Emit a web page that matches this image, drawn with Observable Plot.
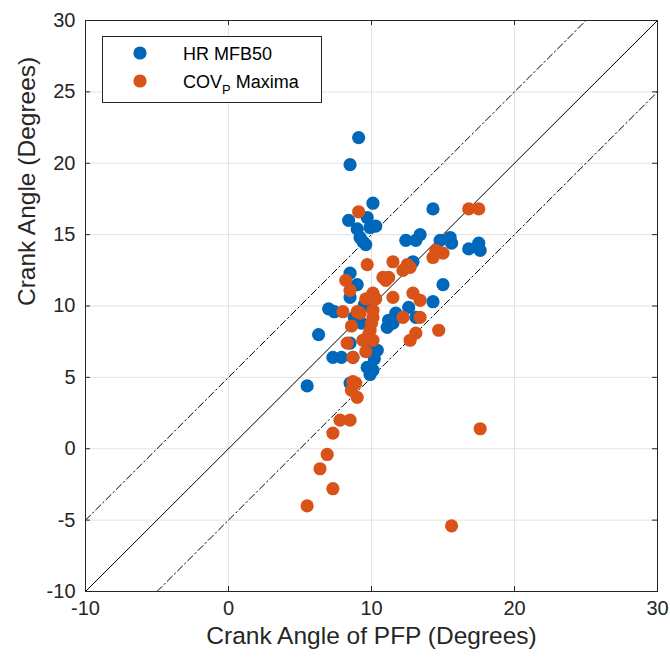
<!DOCTYPE html>
<html><head><meta charset="utf-8">
<script src="https://cdn.jsdelivr.net/npm/d3@7"></script>
<script src="https://cdn.jsdelivr.net/npm/@observablehq/plot@0.6"></script>
<style>
body{margin:0;background:#fff;}
#chart{width:670px;height:657px;}
svg{overflow:visible;}
</style></head><body><div id="chart"></div>
<script>
// Series names and colours
const seriesNames = ["HR MFB50", "COV", "P", " Maxima"]; // second legend label: COV with subscript P
const seriesColors = ["#0068BA", "#D95319"];

// HR MFB50 (blue)
const hrX = [9.1, 8.5, 10.1, 14.3, 8.4, 9.7, 9.0, 9.9, 10.3, 9.2, 9.6, 9.4, 12.4, 13.4, 13.1, 14.8, 15.5, 15.6, 16.8, 17.5, 17.6, 12.9, 15.0, 14.3, 12.6, 11.7, 13.1, 11.5, 11.1, 8.5, 9.0, 8.5, 7.0, 7.4, 6.3, 8.5, 7.3, 7.9, 8.7, 9.7, 10.4, 10.1, 9.9, 8.5, 5.5, 10.0, 10.2, 9.3, 11.2, 9.5, 8.8];
const hrY = [21.8, 19.9, 17.2, 16.8, 16.0, 16.2, 15.4, 15.5, 15.6, 14.8, 14.3, 14.5, 14.6, 15.0, 14.6, 14.6, 14.8, 14.4, 14.0, 14.4, 13.9, 13.1, 11.5, 10.3, 9.9, 9.5, 9.2, 8.8, 8.5, 12.3, 11.5, 10.6, 9.8, 9.6, 8.0, 7.4, 6.4, 6.4, 6.4, 5.7, 6.9, 5.5, 5.2, 4.6, 4.4, 7.5, 6.3, 8.8, 9.0, 10.1, 9.2];

// COV_P Maxima (orange)
const covX = [9.1, 16.8, 17.5, 9.7, 11.5, 8.2, 8.5, 10.8, 11.0, 10.1, 11.5, 8.0, 9.0, 10.1, 9.2, 10.1, 9.9, 8.3, 8.7, 9.4, 10.1, 8.7, 14.5, 14.3, 15.0, 12.5, 12.7, 12.2, 12.9, 13.4, 12.2, 13.4, 14.7, 13.1, 12.7, 8.9, 8.6, 9.0, 7.8, 8.5, 7.3, 6.9, 6.4, 7.3, 5.5, 15.6, 17.6, 9.6, 10.0, 9.8, 8.6, 9.6, 11.2, 10.3];
const covY = [16.6, 16.8, 16.8, 12.9, 13.1, 11.8, 11.1, 12.0, 11.8, 10.9, 10.6, 9.6, 9.6, 9.7, 9.5, 9.2, 8.3, 7.4, 6.4, 7.6, 7.6, 4.7, 13.9, 13.4, 13.7, 12.9, 12.7, 12.5, 10.9, 10.4, 9.2, 9.2, 8.3, 8.1, 7.6, 4.6, 4.1, 3.6, 2.0, 2.0, 1.1, -0.4, -1.4, -2.8, -4.0, -5.4, 1.4, 10.5, 8.8, 8.0, 8.6, 6.8, 12.0, 10.5];

// Axes
const xDomain = [-10, 30];
const yDomain = [-10, 30];
const xTicks = [-10, 0, 10, 20, 30];
const yTicks = [-10, -5, 0, 5, 10, 15, 20, 25, 30];
const xLabel = "Crank Angle of PFP (Degrees)";
const yLabel = "Crank Angle (Degrees)";

// Reference lines y = x + offset
const refOffsets = [0, 5, -5];

const hr = hrX.map((x, i) => ({x, y: hrY[i]}));
const cov = covX.map((x, i) => ({x, y: covY[i]}));

// Reference line segments, clipped to the square domain
const refLines = refOffsets.flatMap(o => {
  const x1 = Math.max(xDomain[0], yDomain[0] - o);
  const x2 = Math.min(xDomain[1], yDomain[1] - o);
  return [{o, x: x1, y: x1 + o}, {o, x: x2, y: x2 + o}];
});

const W = 670, H = 657;
const mL = 85, mR = 13, mT = 20, mB = 66;
const plotW = W - mL - mR;
const tickLen = 5 * (xDomain[1] - xDomain[0]) / plotW;
const tickLenY = 5 * (yDomain[1] - yDomain[0]) / (H - mT - mB);
const axisColor = "#262626";
const font = "'Liberation Sans', Arial, Helvetica, sans-serif";

const chart = Plot.plot({
  width: W, height: H,
  marginLeft: mL, marginRight: mR, marginTop: mT, marginBottom: mB,
  x: {domain: xDomain, label: null},
  y: {domain: yDomain, label: null},
  style: {fontFamily: font, color: axisColor, background: "#fff", overflow: "visible"},
  marks: [
    Plot.gridX(xTicks, {stroke: "#e3e3e3", strokeOpacity: 1}),
    Plot.gridY(yTicks, {stroke: "#e3e3e3", strokeOpacity: 1}),
    Plot.line(refLines.filter(d => d.o === 0), {x: "x", y: "y", z: "o", stroke: "#000", strokeWidth: 1}),
    Plot.line(refLines.filter(d => d.o !== 0), {x: "x", y: "y", z: "o", stroke: "#000", strokeWidth: 1,
      strokeDasharray: "7,3,1.5,3"}),
    Plot.dot(hr, {x: "x", y: "y", r: 6.6, fill: seriesColors[0]}),
    Plot.dot(cov, {x: "x", y: "y", r: 6.6, fill: seriesColors[1]}),
    // inward ticks on all four sides
    Plot.ruleX(xTicks, {y1: yDomain[0], y2: yDomain[0] + tickLenY, stroke: axisColor}),
    Plot.ruleX(xTicks, {y1: yDomain[1], y2: yDomain[1] - tickLenY, stroke: axisColor}),
    Plot.ruleY(yTicks, {x1: xDomain[0], x2: xDomain[0] + tickLen, stroke: axisColor}),
    Plot.ruleY(yTicks, {x1: xDomain[1], x2: xDomain[1] - tickLen, stroke: axisColor}),
    Plot.frame({stroke: axisColor, strokeWidth: 1}),
    Plot.axisX(xTicks, {tickSize: 0, tickPadding: 9, fontSize: 20, label: null, tickFormat: d => String(d)}),
    Plot.axisY(yTicks, {tickSize: 0, tickPadding: 10, fontSize: 20, label: null, tickFormat: d => String(d)}),
    Plot.text([xLabel], {frameAnchor: "bottom", dy: 52, fontSize: 24.5, fill: axisColor}),
    Plot.text([yLabel], {frameAnchor: "left", dx: -58, rotate: -90, fontSize: 24.5, fill: axisColor})
  ]
});

document.getElementById("chart").appendChild(chart);

// Legend inside the axes (upper left)
const svg = d3.select(chart);
const lg = svg.append("g").attr("font-family", font).attr("fill", "#000").attr("text-anchor", "start");
lg.append("rect").attr("x", 102.5).attr("y", 36.5).attr("width", 219).attr("height", 66)
  .attr("fill", "#fff").attr("stroke", axisColor).attr("stroke-width", 1);
const rows = [
  {color: seriesColors[0], y: 53, parts: [seriesNames[0]]},
  {color: seriesColors[1], y: 81, parts: [seriesNames[1], seriesNames[2], seriesNames[3]]}
];
rows.forEach(r => {
  lg.append("circle").attr("cx", 140).attr("cy", r.y).attr("r", 6.6).attr("fill", r.color);
  const t = lg.append("text").attr("x", 183).attr("y", r.y + 6.5).attr("text-anchor", "start")
    .attr("font-size", 18).attr("fill", "#000");
  t.append("tspan").text(r.parts[0]);
  if (r.parts.length > 1) {
    t.append("tspan").attr("font-size", 13).attr("dy", 6).text(r.parts[1]);
    t.append("tspan").attr("dy", -6).attr("font-size", 18).text(r.parts[2]);
  }
});
</script>
</body></html>
